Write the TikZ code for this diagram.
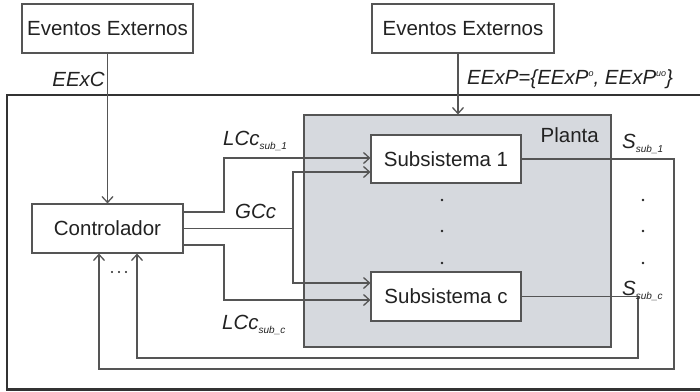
\documentclass[tikz,border=0pt]{standalone}
\usepackage{fontspec}
\setmainfont{Liberation Sans}
\usetikzlibrary{arrows.meta,calc}

\definecolor{plantfill}{HTML}{D6D9DE}
\definecolor{wiregray}{HTML}{555555}
\definecolor{framegray}{HTML}{333333}
\definecolor{inkgray}{HTML}{222222}

% small italic sub/superscripts for the signal names
\newcommand{\subtag}[1]{\raisebox{-4pt}{\fontsize{10}{10}\selectfont\itshape #1}}
\newcommand{\suptag}[1]{\raisebox{8pt}{\fontsize{9}{9}\selectfont\itshape #1}}

\begin{document}
\begin{tikzpicture}[x=1pt,y=-1pt,
  font=\fontsize{20.5}{24}\selectfont,
  blk/.style={draw=wiregray, line width=1.1pt, fill=white, inner sep=0pt, text=inkgray},
  wire/.style={draw=wiregray, line width=1.4pt},
  arr/.style={wire, -{Straight Barb[length=6pt,width=11pt,line width=1.3pt]}},
  lbl/.style={inner sep=0pt, font=\fontsize{20.5}{24}\selectfont\itshape, text=inkgray},
  dotmark/.style={fill=inkgray},
]
\useasboundingbox (0,0) rectangle (700,391);

% closed-loop system frame (runs past the right edge)
\draw[framegray, line width=2.5pt] (7,95) rectangle (706,389.5);

% plant region
\node[draw=wiregray, fill=plantfill, line width=1.1pt, inner sep=0pt,
      minimum width=307pt, minimum height=232pt] (plant) at (457.5,231) {};
\node[anchor=base east, inner sep=0pt, text=inkgray] (plabel) at (599,142) {Planta};

% blocks
\node[blk, minimum width=171pt, minimum height=49pt] (extC) at (107.5,28.5) {Eventos Externos};
\node[blk, minimum width=182pt, minimum height=49pt] (extP) at (463,28.5) {Eventos Externos};
\node[blk, minimum width=151pt, minimum height=49pt] (ctrl) at (107.5,228.5) {Controlador};
\node[blk, minimum width=150pt, minimum height=48pt] (sub1) at (446,159) {Subsistema 1};
\node[blk, minimum width=150pt, minimum height=49pt] (subc) at (446,296.5) {Subsistema c};

% routing columns, rows and port points
\coordinate (bL)  at (224,0);
\coordinate (bG)  at (293,0);
\coordinate (ext) at (458,0);
\coordinate (fb1) at (674,369);
\coordinate (fbc) at (638,358);
\coordinate (in1L) at ([yshift=1pt]sub1.west);
\coordinate (in1G) at ([yshift=-13pt]sub1.west);
\coordinate (incG) at ([yshift=13.5pt]subc.west);
\coordinate (incL) at ([yshift=-3.5pt]subc.west);
\coordinate (outL1) at ([yshift=16.5pt]ctrl.east);
\coordinate (outLc) at ([yshift=-16.5pt]ctrl.east);
\coordinate (fbin1) at ([xshift=-8.5pt]ctrl.south);
\coordinate (fbinc) at ([xshift=29.5pt]ctrl.south);

% external events
\draw[arr] (extC.south) -- (ctrl.north);
\draw[arr] (ext |- extP.south) -- (ext |- plant.north);

% control actions
\draw[arr] (outL1) -| (bL |- in1L) -- (in1L);
\draw[wire] (ctrl.east) -- (bG |- ctrl.east);
\draw[arr] (bG |- ctrl.east) |- (in1G);
\draw[arr] (bG |- ctrl.east) |- (incG);
\draw[arr] (outLc) -| (bL |- incL) -- (incL);

% feedback of subsystem outputs
\draw[arr] (sub1.east) -| (fb1) -| (fbin1);
\draw[arr] (subc.east) -| (fbc) -| (fbinc);

% signal labels
\node[lbl, anchor=base east] (eexc) at (105,86) {EExC};
\node[lbl, anchor=base west] (eexp) at (467,84) {EExP=\{EExP\suptag{o}, EExP\suptag{uo}\}};
\node[lbl, anchor=base west] (lcc1) at (223,145) {LCc\subtag{sub\_1}};
\node[lbl, anchor=base west] (gcc) at (235,218) {GCc};
\node[lbl, anchor=base west] (lccc) at (222,329) {LCc\subtag{sub\_c}};
\node[lbl, anchor=base west] (s1) at (622,148) {S\subtag{sub\_1}};
\node[lbl, anchor=base west] (sc) at (622,295) {S\subtag{sub\_c}};

% ellipsis marks
\foreach \xx in {112,119,126} \fill[dotmark] (\xx,272) circle (1.2pt);
\foreach \yy in {200,231,263} {
  \fill[dotmark] (442,\yy) circle (1.4pt);
  \fill[dotmark] (643,\yy) circle (1.4pt);
}
\end{tikzpicture}
\end{document}
